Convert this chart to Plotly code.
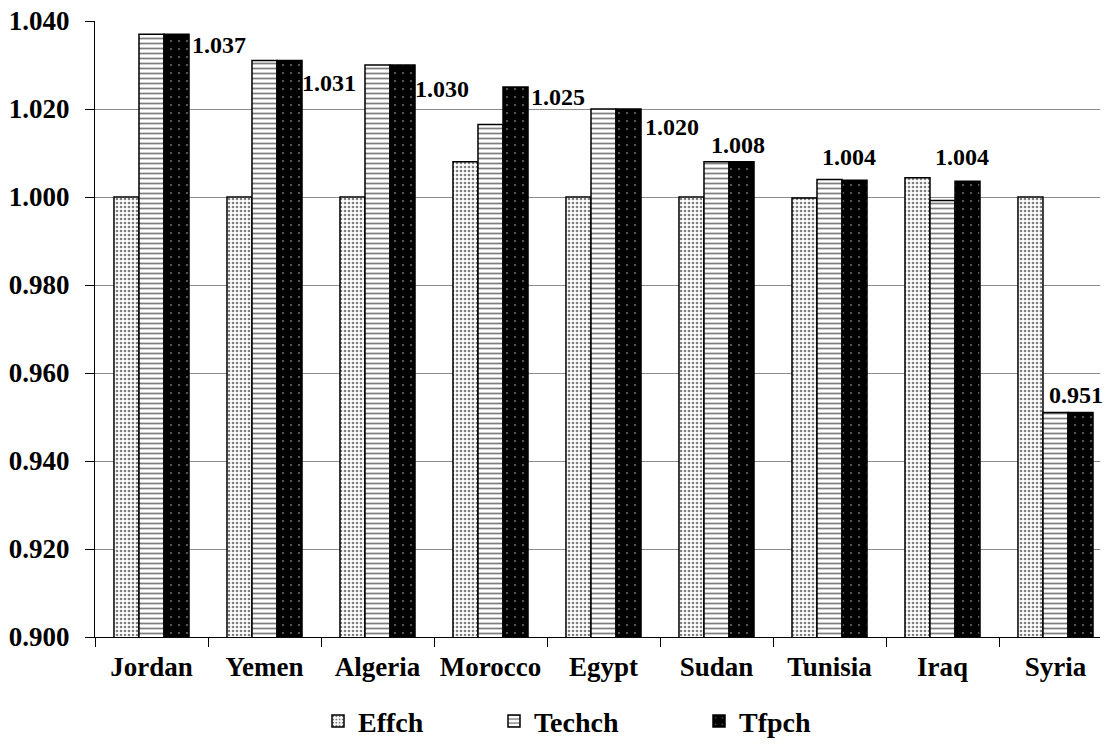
import plotly.graph_objects as go

countries = ["Jordan", "Yemen", "Algeria", "Morocco", "Egypt", "Sudan", "Tunisia", "Iraq", "Syria"]
effch = [1.000, 1.000, 1.000, 1.008, 1.000, 1.000, 0.9998, 1.0044, 1.000]
techch = [1.037, 1.031, 1.030, 1.0165, 1.020, 1.008, 1.004, 0.9992, 0.951]
tfpch = [1.037, 1.031, 1.030, 1.025, 1.020, 1.008, 1.0038, 1.0036, 0.951]
label_text = ["1.037", "1.031", "1.030", "1.025", "1.020", "1.008", "1.004", "1.004", "0.951"]
y_ticks = [0.900, 0.920, 0.940, 0.960, 0.980, 1.000, 1.020, 1.040]

# label offsets in pixels (layout only); positive dy = upward
label_dx = [67.5, 64.5, 64.5, 67.5, 68.5, 21.5, 19.5, 19.5, 20.5]
label_dy = [-11, -22, -24, -10, -18, 17, 23, 24, 18]

FONT = "Liberation Serif"

fig = go.Figure()
fig.add_trace(go.Bar(
    name="Effch", x=countries, y=effch,
    marker=dict(color="white", line=dict(color="black", width=1.5),
                pattern=dict(shape=".", fgcolor="black", bgcolor="white", size=4, solidity=0.35)),
    legend="legend",
))
fig.add_trace(go.Bar(
    name="Techch", x=countries, y=techch,
    marker=dict(color="white", line=dict(color="black", width=1.5),
                pattern=dict(shape="-", fgcolor="black", bgcolor="white", size=5, solidity=0.35)),
    legend="legend2",
))
fig.add_trace(go.Bar(
    name="Tfpch", x=countries, y=tfpch,
    marker=dict(color="black", line=dict(color="black", width=1.5),
                pattern=dict(shape=".", fgcolor="white", bgcolor="black", size=8, solidity=0.04)),
    legend="legend3",
))

for i, (t, v) in enumerate(zip(label_text, tfpch)):
    fig.add_annotation(x=i, y=v, xref="x", yref="y", text=t, showarrow=False,
                       xshift=label_dx[i], yshift=label_dy[i],
                       font=dict(family=FONT, size=24, color="black", weight="bold"))

W, H = 1106, 753
L, R, T, B = 95, 6, 16, 116
plot_w = W - L - R
cat_w = 113
x_hi = -0.5 + plot_w / cat_w

def lx(px):
    return (px - L) / plot_w

leg_common = dict(orientation="h", yanchor="middle", y=-0.137, xanchor="left",
                  font=dict(family=FONT, size=28, color="black", weight="bold"),
                  bgcolor="rgba(0,0,0,0)", itemwidth=30)

fig.update_layout(
    width=W, height=H,
    margin=dict(l=L, r=R, t=T, b=B),
    paper_bgcolor="white", plot_bgcolor="white",
    barmode="group", bargap=0.336, bargroupgap=0,
    font=dict(family=FONT, size=27, color="black"),
    showlegend=True,
    legend=dict(leg_common, x=lx(318)),
    legend2=dict(leg_common, x=lx(494)),
    legend3=dict(leg_common, x=lx(699)),
    xaxis=dict(range=[-0.5, x_hi], showline=True, linecolor="black", linewidth=1,
               ticks="outside", tickson="boundaries", ticklen=9, tickcolor="black",
               tickfont=dict(family=FONT, size=27, color="black", weight="bold"),
               ticklabelstandoff=6),
    yaxis=dict(range=[0.9, 1.04], tickvals=y_ticks, tickformat=".3f",
               showline=True, linecolor="black", linewidth=1,
               ticks="outside", ticklen=9, tickcolor="black", ticklabelstandoff=10,
               showgrid=True, gridcolor="#8c8c8c", gridwidth=1, zeroline=False,
               tickfont=dict(family=FONT, size=27, color="black", weight="bold")),
)

fig.write_html("out.html")
